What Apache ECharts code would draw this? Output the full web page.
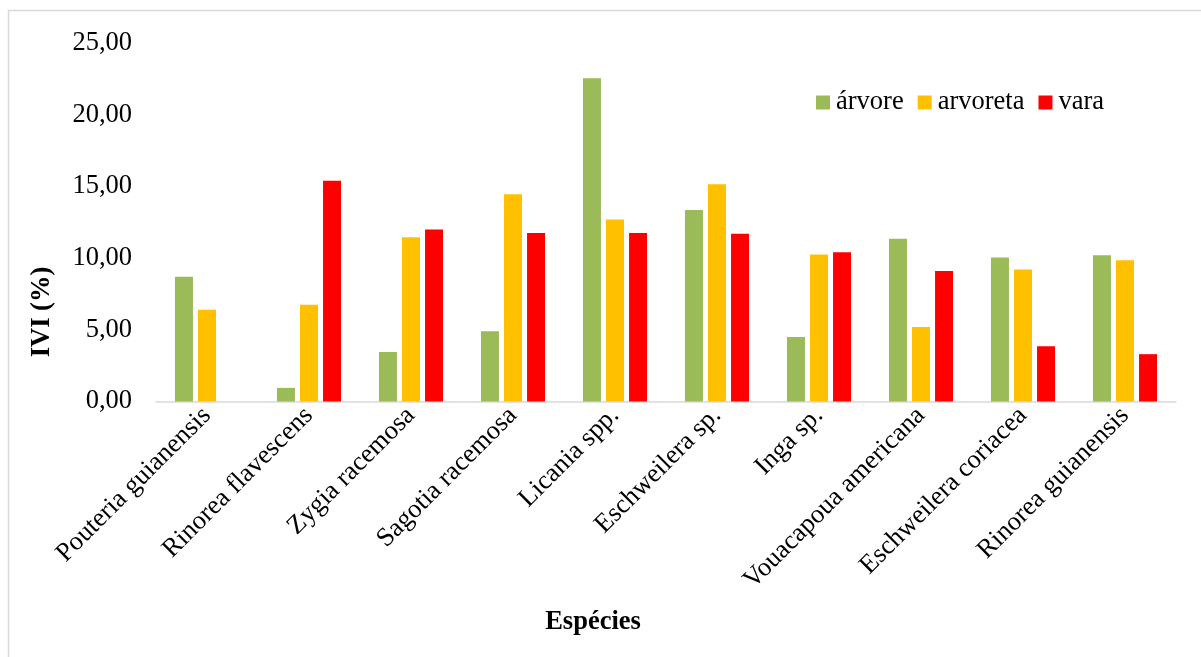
<!DOCTYPE html>
<html>
<head>
<meta charset="utf-8">
<script src="https://cdn.jsdelivr.net/npm/echarts@6/dist/echarts.min.js"></script>
<style>html,body{margin:0;padding:0;background:#fff}#c{width:1201px;height:657px}</style>
</head>
<body>
<div id="c"></div>
<script>
const categories = ['Pouteria guianensis','Rinorea flavescens','Zygia racemosa','Sagotia racemosa','Licania spp.','Eschweilera sp.','Inga sp.','Vouacapoua americana','Eschweilera coriacea','Rinorea guianensis'];
const arvore   = [8.70, 0.95, 3.45, 4.90, 22.55, 13.35, 4.50, 11.35, 10.05, 10.20];
const arvoreta = [6.40, 6.75, 11.45, 14.45, 12.70, 15.15, 10.25, 5.20, 9.20, 9.85];
const vara     = [null, 15.40, 12.00, 11.75, 11.75, 11.70, 10.40, 9.10, 3.85, 3.30];
const seriesNames = ['árvore','arvoreta','vara'];
const yTickLabels = ['0,00','5,00','10,00','15,00','20,00','25,00'];

const serif = "'Liberation Serif','Times New Roman',serif";
const fs = 26.5;
const chart = echarts.init(document.getElementById('c'), null, {renderer:'canvas'});
chart.setOption({
  animation:false,
  backgroundColor:'#fff',
  grid:{left:156,right:25,top:43,bottom:255.5,containLabel:false},
  legend:{
    left:811, top:84, itemWidth:14, itemHeight:14, itemGap:14,
    icon:'rect',
    textStyle:{fontFamily:serif,fontSize:fs,color:'#000',padding:[0,0,0,1]},
    data:seriesNames
  },
  xAxis:{
    type:'category', data:categories,
    axisLine:{lineStyle:{color:'#d9d9d9',width:1.5}},
    axisTick:{show:false},
    axisLabel:{rotate:45,interval:0,margin:10,fontFamily:serif,fontSize:fs,color:'#000'}
  },
  yAxis:{
    type:'value', min:0, max:25, interval:5,
    axisLine:{show:false}, axisTick:{show:false}, splitLine:{show:false},
    axisLabel:{margin:24,fontFamily:serif,fontSize:fs,color:'#000',
      formatter:(v)=>yTickLabels[Math.round(v/5)]}
  },
  series:[
    {name:seriesNames[0],type:'bar',data:arvore,barWidth:18,barGap:'28%',itemStyle:{color:'#9bbb59'}},
    {name:seriesNames[1],type:'bar',data:arvoreta,barWidth:18,barGap:'28%',itemStyle:{color:'#ffc000'}},
    {name:seriesNames[2],type:'bar',data:vara,barWidth:18,barGap:'28%',itemStyle:{color:'#ff0000'}}
  ],
  graphic:[
    {type:'rect',shape:{x:8.5,y:10.5,width:1300,height:800},style:{fill:'none',stroke:'#d9d9d9',lineWidth:1.5},silent:true,z:-1},
    {type:'text',x:42,y:312,rotation:Math.PI/2,style:{text:'IVI (%)',fontFamily:serif,fontSize:fs,fontWeight:'bold',fill:'#000',align:'center',verticalAlign:'middle'}},
    {type:'text',x:593,y:622,style:{text:'Espécies',fontFamily:serif,fontSize:fs,fontWeight:'bold',fill:'#000',align:'center',verticalAlign:'middle'}}
  ]
});
</script>
</body>
</html>
